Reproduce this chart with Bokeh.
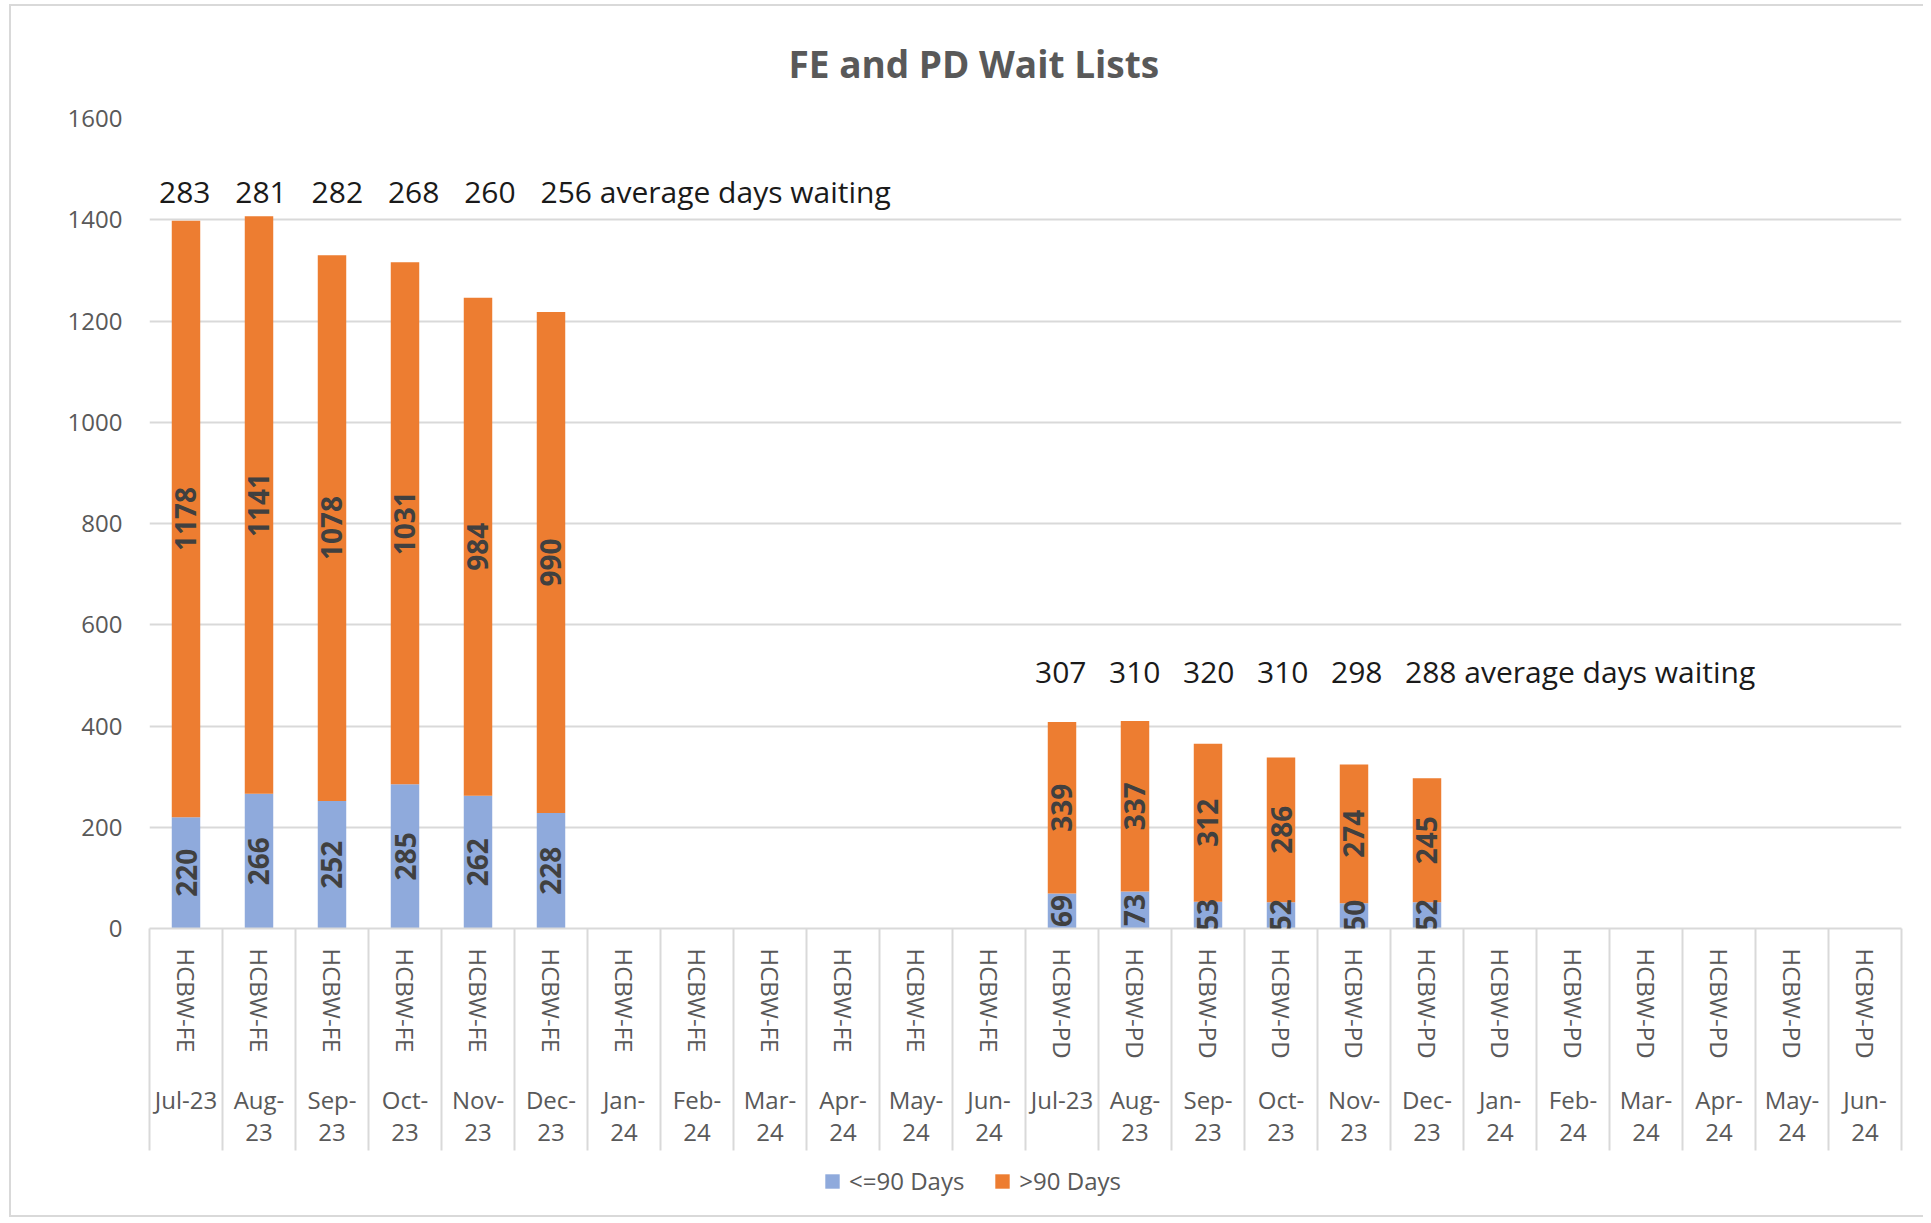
import numpy as np
from bokeh.plotting import figure
from bokeh.layouts import column
from bokeh.models import (ColumnDataSource, FixedTicker, LinearAxis, Range1d, Legend,
                          LegendItem, LabelSet, Grid)
from bokeh.core.properties import value
from bokeh.embed import file_html
from bokeh.resources import INLINE

# ---------------- data ----------------
groups = ["HCBW-FE", "HCBW-PD"]
months = ["Jul-23", "Aug-23", "Sep-23", "Oct-23", "Nov-23", "Dec-23",
          "Jan-24", "Feb-24", "Mar-24", "Apr-24", "May-24", "Jun-24"]
series_names = ["<=90 Days", ">90 Days"]
fe_le90 = [220, 266, 252, 285, 262, 228]
fe_gt90 = [1178, 1141, 1078, 1031, 984, 990]
pd_le90 = [69, 73, 53, 52, 50, 52]
pd_gt90 = [339, 337, 312, 286, 274, 245]
fe_avg_days = [283, 281, 282, 268, 260, 256]
pd_avg_days = [307, 310, 320, 310, 298, 288]
avg_suffix = " average days waiting"
y_ticks = [0, 200, 400, 600, 800, 1000, 1200, 1400, 1600]

# ---------------- styles ----------------
BLUE = "#8FAADC"
ORANGE = "#ED7D31"
GRID = "#D9D9D9"
AXIS_TXT = "#595959"
FONT = "Open Sans"
AVG_LEVEL = {"HCBW-FE": 1433, "HCBW-PD": 484}   # baseline of the annotation text rows
SEP_LEN = 222                                    # px length of category separators

n = len(months)
ncat = len(groups) * n
centers = np.arange(ncat) + 0.5
bounds = np.arange(ncat + 1)

inner_labels = [g for g in groups for _ in months]
outer_labels = [m if m.startswith("Jul") else m.replace("-", "-\n") for _ in groups for m in months]

series = {"HCBW-FE": (fe_le90, fe_gt90, fe_avg_days), "HCBW-PD": (pd_le90, pd_gt90, pd_avg_days)}
bx, le, gt = [], [], []
ax_, ay_, at_, adx = [], [], [], []
for gi, g in enumerate(groups):
    l, h, a = series[g]
    for i in range(len(l)):
        bx.append(centers[gi * n + i]); le.append(l[i]); gt.append(h[i])
    for i, v in enumerate(a):
        ax_.append(centers[gi * n + i])
        ay_.append(AVG_LEVEL[g])
        at_.append(str(v) + (avg_suffix if i == len(a) - 1 else ""))
        adx.append(-27 + (3.3 if gi == 0 else 1.0) * i)

src = ColumnDataSource(dict(x=bx, le90=le, gt90=gt))
lab_src = ColumnDataSource(dict(
    x=bx + bx,
    y=[v / 2 for v in le] + [a + b / 2 for a, b in zip(le, gt)],
    t=[str(v) for v in le] + [str(v) for v in gt]))
avg_src = ColumnDataSource(dict(x=ax_, y=ay_, t=at_, dx=adx))

# content starts at page (11, 6) because of the chart-area border
p = figure(width=1912, height=1154, x_range=Range1d(0, ncat), y_range=Range1d(0, 1600),
           output_backend="svg", toolbar_location=None, x_axis_type=None, y_axis_type=None,
           min_border_left=138, min_border_right=22, min_border_top=112, min_border_bottom=232,
           title="FE and PD Wait Lists")
p.outline_line_color = None
p.background_fill_color = "white"
p.border_fill_color = "white"

p.title.align = "left"
p.title.offset = 639
p.title.standoff = 59
p.title.text_font = FONT
p.title.text_font_size = "37px"
p.title.text_font_style = "bold"
p.title.text_color = AXIS_TXT

# y axis + grid
yax = LinearAxis(ticker=FixedTicker(ticks=y_ticks))
yax.axis_line_color = None
yax.major_tick_line_color = None
yax.minor_tick_line_color = None
yax.major_label_standoff = 21
yax.major_label_text_font = FONT
yax.major_label_text_font_size = "24px"
yax.major_label_text_color = AXIS_TXT
p.add_layout(yax, "left")
p.add_layout(Grid(dimension=1, ticker=yax.ticker, grid_line_color=GRID, grid_line_width=2))

# inner category axis (+ long separators as minor ticks)
ax1 = LinearAxis(ticker=FixedTicker(ticks=list(centers), minor_ticks=list(bounds)))
ax1.major_label_overrides = {float(c): t for c, t in zip(centers, inner_labels)}
ax1.major_label_orientation = "vertical"
ax1.major_tick_in = 0
ax1.major_tick_out = 0
ax1.minor_tick_in = 0
ax1.minor_tick_out = SEP_LEN
ax1.minor_tick_line_color = GRID
ax1.minor_tick_line_width = 2
ax1.axis_line_color = GRID
ax1.axis_line_width = 2
ax1.major_label_standoff = 20 - SEP_LEN
ax1.major_label_text_font = FONT
ax1.major_label_text_font_size = "24px"
ax1.major_label_text_color = AXIS_TXT
p.add_layout(ax1, "below")

# outer (month) axis
ax2 = LinearAxis(ticker=FixedTicker(ticks=list(centers), minor_ticks=[]))
ax2.major_label_overrides = {float(c): t for c, t in zip(centers, outer_labels)}
ax2.axis_line_color = None
ax2.major_tick_line_color = None
ax2.minor_tick_line_color = None
ax2.major_label_standoff = 15
ax2.major_label_text_font = FONT
ax2.major_label_text_font_size = "24px"
ax2.major_label_text_line_height = 0.97
ax2.major_label_text_color = AXIS_TXT
p.add_layout(ax2, "below")

rs = p.vbar_stack(["le90", "gt90"], x="x", width=0.39, color=[BLUE, ORANGE],
                  line_color=None, source=src)

p.add_layout(LabelSet(x="x", y="y", text="t", source=lab_src, angle=np.pi / 2,
                      text_align="center", text_baseline="middle",
                      text_font=value(FONT), text_font_size=value("28px"),
                      text_font_style=value("bold"), text_color=value("#404040")))

p.add_layout(LabelSet(x="x", y="y", text="t", source=avg_src, x_offset="dx",
                      text_align="left", text_baseline="alphabetic",
                      text_font=value(FONT), text_font_size=value("30px"),
                      text_color=value("#1A1A1A")))

# ---------------- legend strip (hidden copies of the bar renderers feed the legend) ----------------
lf = figure(width=1912, height=55, x_range=Range1d(100, 200), y_range=Range1d(0, 2000),
            output_backend="svg", toolbar_location=None, x_axis_type=None, y_axis_type=None,
            min_border_left=0, min_border_right=0, min_border_top=0, min_border_bottom=0)
lf.outline_line_color = None
lf.grid.visible = False
lr = lf.vbar_stack(["le90", "gt90"], x="x", width=0.39, color=[BLUE, ORANGE],
                   line_color=None, source=src)
for r in lr:
    r.visible = False

legend = Legend(items=[LegendItem(label=series_names[0], renderers=[lr[0]]),
                       LegendItem(label=series_names[1], renderers=[lr[1]])],
                orientation="horizontal", location=(674, 18),
                glyph_width=18, glyph_height=18, label_standoff=8, spacing=29,
                padding=4, margin=0, border_line_color=None, background_fill_alpha=0,
                inactive_fill_alpha=0,
                label_text_font=FONT, label_text_font_size="24px", label_text_color=AXIS_TXT)
lf.add_layout(legend)

layout = column(p, lf, spacing=0)
layout.styles = {"margin-left": "9px", "margin-top": "4px",
                 "border-left": "2px solid #D9D9D9", "border-top": "2px solid #D9D9D9",
                 "border-bottom": "2px solid #D9D9D9"}

open("out.html", "w").write(file_html(layout, INLINE))
